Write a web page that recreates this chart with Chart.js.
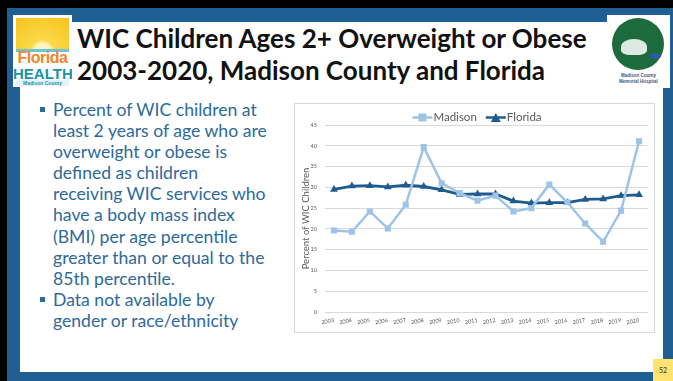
<!DOCTYPE html>
<html>
<head>
<meta charset="utf-8">
<script src="https://cdn.jsdelivr.net/npm/chart.js@4.4.0/dist/chart.umd.min.js"></script>
<style>
  html, body { margin: 0; padding: 0; }
  body { width: 673px; height: 381px; position: relative; overflow: hidden; background: #000; font-family: Lato, "Open Sans", sans-serif; }
  #frame { position: absolute; left: 7px; top: 8px; right: 0; bottom: 0; background: #1F5F94; }
  #inner { position: absolute; left: 20px; top: 22px; width: 643px; height: 350px; background: #fff; }
  #title { position: absolute; left: 77px; top: 22px; font-family: Lato, sans-serif; font-weight: 700; font-size: 26px; line-height: 32px; color: #111; white-space: nowrap; }
  #bullets { position: absolute; left: 40px; top: 99px; margin: 0; padding: 0; list-style: none; color: #2C6A9C; font-family: Lato, sans-serif; font-size: 17.6px; line-height: 21.1px; white-space: nowrap; }
  #bullets li { position: relative; padding-left: 13px; }
  #bullets li::before { content: ""; position: absolute; left: 0; top: 8px; width: 5px; height: 5px; background: #2C6A9C; }
  .logo { position: absolute; background: #fff; overflow: hidden; }
  #fl { left: 13px; top: 15px; width: 59px; height: 72px; }
  #fl .sun { position: absolute; left: 3px; top: 3px; width: 53px; height: 34px; background: radial-gradient(circle at 50% 100%, #fffbe0 0, #fff3b0 9px, #fbd94a 12px, #f7c522 40px); }
  #fl .sea { position: absolute; left: 3px; top: 34px; width: 53px; height: 3px; background: #6cc4d8; }
  #fl .t1 { position: absolute; left: 0; width: 59px; top: 34px; text-align: center; font: 700 16px "Liberation Sans Narrow", Arial, sans-serif; color: #F0842C; letter-spacing: -0.5px; }
  #fl .t2 { position: absolute; left: 0; width: 59px; top: 50px; text-align: center; font: 700 15px "Liberation Sans Narrow", Arial, sans-serif; color: #1A93A6; }
  #fl .t3 { position: absolute; left: 3px; width: 53px; top: 65px; text-align: center; font: 700 5px/6px Arial, sans-serif; color: #1A93A6; background: #e3f3f6; }
  #mh { left: 607px; top: 15px; width: 63px; height: 73px; }
  #mh .circ { position: absolute; left: 5px; top: 3px; width: 52px; height: 52px; border-radius: 50%; background: #1D6B3C; }
  #mh .tree { position: absolute; left: 14px; top: 24px; width: 26px; height: 16px; border-radius: 50% 50% 30% 30%; background: #fff; opacity: .85; }
  #mh .lake { position: absolute; left: 42px; top: 38px; width: 12px; height: 6px; border-radius: 50%; background: #2B5C9E; }
  #mh .t { position: absolute; left: 0; width: 63px; top: 58px; text-align: center; font: 700 4.5px/6px Arial, sans-serif; color: #3a5a7a; }
  #chartbox { position: absolute; left: 294px; top: 103px; width: 361px; height: 230px; box-sizing: border-box; border: 1px solid #d9d9d9; background: #fff; }
  #chart { display: block; }
  #page { position: absolute; left: 653px; top: 359px; width: 20px; height: 22px; background: #FFE270; font: 7px Lato, sans-serif; color: #333; text-align: center; line-height: 22px; }
</style>
</head>
<body>
<div id="frame"></div>
<div id="inner"></div>
<div class="logo" id="fl"><div class="sun"></div><div class="sea"></div><div class="t1">Florida</div><div class="t2">HEALTH</div><div class="t3">Madison County</div></div>
<div class="logo" id="mh"><div class="circ"></div><div class="tree"></div><div class="lake"></div><div class="t">Madison County<br>Memorial Hospital</div></div>
<div id="title">WIC Children Ages 2+ Overweight or Obese<br>2003-2020, Madison County and Florida</div>
<ul id="bullets">
  <li>Percent of WIC children at<br>least 2 years of age who are<br>overweight or obese is<br>defined as children<br>receiving WIC services who<br>have a body mass index<br>(BMI) per age percentile<br>greater than or equal to the<br>85th percentile.</li>
  <li>Data not available by<br>gender or race/ethnicity</li>
</ul>
<div id="chartbox"><canvas id="chart" width="359" height="228"></canvas></div>
<div id="page">52</div>

<script>
"use strict";

// data
var years = ["2003", "2004", "2005", "2006", "2007", "2008", "2009", "2010", "2011",
  "2012", "2013", "2014", "2015", "2016", "2017", "2018", "2019", "2020"];
var madison = [19.6, 19.3, 24.2, 20.1, 25.8, 39.7, 31.0, 28.6, 26.8,
  28.0, 24.2, 25.0, 30.7, 26.4, 21.3, 16.9, 24.4, 41.1];
var florida = [29.5, 30.3, 30.4, 30.1, 30.5, 30.2, 29.4, 28.3, 28.4,
  28.4, 26.7, 26.2, 26.3, 26.3, 27.1, 27.2, 28.0, 28.2];
var yTicks = [0, 5, 10, 15, 20, 25, 30, 35, 40, 45];

var lightBlue = "#9DC3E6";
var darkBlue = "#1F5C8E";
var shapes = ["rect", "triangle"];

/*-- Excel style legend: line with marker, drawn above the plot --*/
function drawSwatch(g, x, y, color, shape) {
  g.save();
  g.strokeStyle = color; g.lineWidth = 2.5;
  g.beginPath(); g.moveTo(x, y); g.lineTo(x + 20, y); g.stroke();
  g.fillStyle = color;
  if (shape === "rect") {
    g.fillRect(x + 6, y - 4, 8, 8);
  } else {
    g.beginPath(); g.moveTo(x + 10, y - 4.5); g.lineTo(x + 15, y + 4.5); g.lineTo(x + 5, y + 4.5); g.closePath(); g.fill();
  }
  g.restore();
}

var lineLegend = {
  id: "lineLegend",
  afterDraw: function (chart) {
    var g = chart.ctx;
    var sets = chart.data.datasets;
    g.save();
    g.font = "11.5px Lato";
    g.textBaseline = "middle";
    var widths = sets.map(function (d) { return 22 + g.measureText(d.label).width; });
    var total = widths.reduce(function (a, b) { return a + b; }, 0) + 8 * (sets.length - 1);
    var x = (chart.width - total) / 2 + 3;
    var y = 13.5;
    sets.forEach(function (d, i) {
      drawSwatch(g, x, y, d.borderColor, shapes[i]);
      g.fillStyle = "#595959";
      g.fillText(d.label, x + 21, y);
      x += widths[i] + 8;
    });
    g.restore();
  }
};

new Chart(document.getElementById("chart").getContext("2d"), {
  type: "line",
  data: {
    labels: years,
    datasets: [{
      label: "Madison",
      data: madison,
      borderColor: lightBlue,
      backgroundColor: lightBlue,
      borderWidth: 2.5,
      pointStyle: shapes[0],
      pointRadius: 4.3,
      pointBorderWidth: 0,
      tension: 0
    }, {
      label: "Florida",
      data: florida,
      borderColor: darkBlue,
      backgroundColor: darkBlue,
      borderWidth: 2.8,
      pointStyle: shapes[1],
      pointRadius: 4.5,
      pointBorderWidth: 0,
      tension: 0
    }]
  },
  options: {
    responsive: false,
    animation: false,
    layout: { padding: { left: 5, right: 6, top: 21, bottom: 0 } },
    plugins: {
      tooltip: { enabled: false },
      legend: { display: false }
    },
    scales: {
      x: {
        offset: true,
        grid: { display: false },
        border: { display: false },
        ticks: { color: "#595959", font: { family: "Lato", size: 5.5 }, minRotation: 10, maxRotation: 10, padding: -3 },
        afterFit: function (scale) { scale.height = 20; }
      },
      y: {
        min: 0,
        max: 45,
        afterBuildTicks: function (scale) {
          scale.ticks = yTicks.map(function (v) { return { value: v }; });
        },
        grid: { color: "#d9d9d9", drawTicks: false },
        border: { display: false },
        ticks: { color: "#595959", font: { family: "Lato", size: 5.5 }, padding: 8 },
        title: { display: true, text: "Percent of WIC Children", color: "#595959", font: { family: "Lato", size: 9.5 }, padding: 0 },
        afterFit: function (scale) { scale.width = 25; }
      }
    }
  },
  plugins: [lineLegend]
});
</script>
</body>
</html>
